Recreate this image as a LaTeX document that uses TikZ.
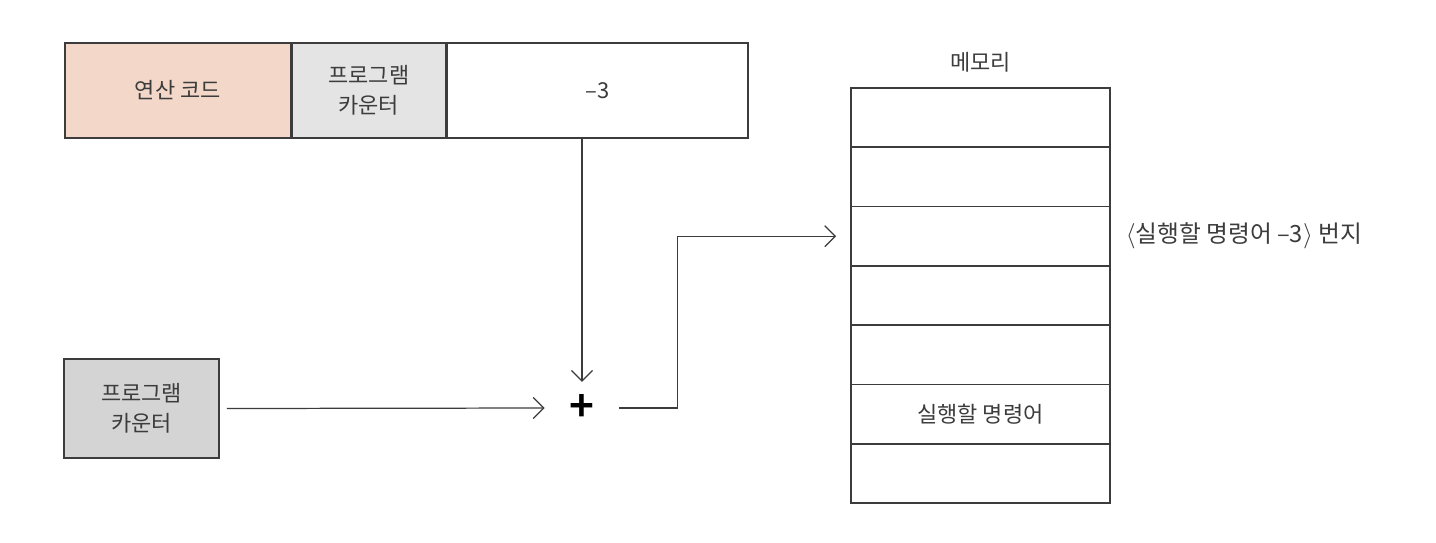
\documentclass[tikz,border=0pt]{standalone}
\usepackage{fontspec}
\setmainfont{Noto Sans CJK KR}[BoldFont={Noto Sans CJK KR Bold}]
\usepackage{tikz}
\usetikzlibrary{arrows.meta,positioning}

\definecolor{opcol}{HTML}{F3D7C9}
\definecolor{pccol}{HTML}{E4E4E4}
\definecolor{regcol}{HTML}{D4D4D4}
\definecolor{inkcol}{HTML}{3C3C3C}

\tikzset{
  cell/.style={draw=inkcol,line width=0.9pt,minimum height=1.9cm,inner sep=0pt,
    align=center,text=inkcol},
  memcell/.style={draw=inkcol,line width=0.9pt,minimum width=5.18cm,
    minimum height=1.186cm,inner sep=0pt,text=inkcol},
  arr/.style={draw=inkcol,line width=0.7pt,-{Straight Barb[length=6pt,width=12pt]}}
}

\begin{document}
\begin{tikzpicture}[x=0.02cm,y=-0.02cm,font=\fontsize{12.5}{17}\selectfont]
\useasboundingbox (0,0) rectangle (1436,542);
\fill[white] (0,0) rectangle (1436,542);

% instruction
\node[cell,fill=opcol,minimum width=4.52cm,anchor=north west] (opcode) at (64,42) {연산 코드};
\node[cell,fill=pccol,minimum width=3.06cm,right=0pt of opcode] (pcfield) {프로그램\\카운터};
\node[cell,fill=white,minimum width=6.02cm,right=0pt of pcfield] (offset) {--3};

% program counter register
\node[cell,fill=regcol,minimum width=3.1cm,minimum height=1.98cm] (pcreg) at (141.5,408.5) {프로그램\\카운터};

% adder
\node[text=black,inner sep=2pt] (plus) at (582,408) {\fontsize{24}{24}\selectfont\textbf{+}};

% memory
\foreach \i in {1,...,7}
  \node[memcell] (m\i) at (980.5,117.6+59.3*\i-59.3) {};
\node[text=inkcol,above=5pt of m1] (memlabel) {메모리};
\node[text=inkcol] at (m6) {실행할 명령어};
\node[text=inkcol,anchor=west,font=\fontsize{13.5}{17}\selectfont] (addr) at ([xshift=5pt]m3.east) {\(\langle\)실행할 명령어 --3\(\rangle\) 번지};

% connectors
\draw[arr] (plus.north |- offset.south) -- ([yshift=5pt]plus.north);
\draw[arr] ([xshift=4pt]pcreg.east) -- ([xshift=-12pt]plus.west);
\draw[arr] ([xshift=12pt]plus.east) -- ++(58,0) |- ([xshift=-8pt]m3.west);
\end{tikzpicture}
\end{document}
